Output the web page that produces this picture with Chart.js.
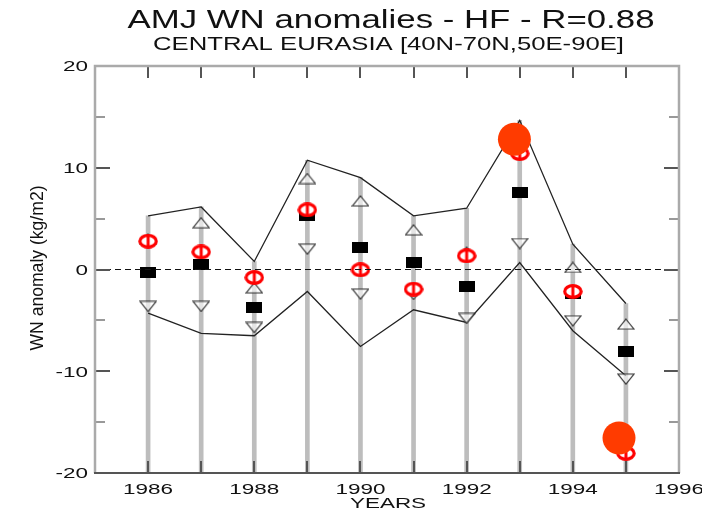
<!DOCTYPE html>
<html>
<head>
<meta charset="utf-8">
<title>AMJ WN anomalies - Central Eurasia</title>
<script src="https://cdn.jsdelivr.net/npm/chart.js@4.4.1/dist/chart.umd.min.js"></script>
<style>
  html, body { margin: 0; padding: 0; background: #ffffff; }
  #wrap { width: 702px; height: 511px; }
</style>
</head>
<body>
<div id="wrap"><canvas id="c" width="702" height="511"></canvas></div>
<script>
// Years of the April-May-June season
const years = [1986, 1987, 1988, 1989, 1990, 1991, 1992, 1993, 1994, 1995];

// Envelope of the hindcast spread (upper and lower bounds)
const upperBound = [5.27, 6.15, 0.79, 10.74, 9.03, 5.27, 6.02, 14.66, 2.49, -3.34];
const lowerBound = [-4.29, -6.28, -6.51, -2.16, -7.56, -3.96, -5.2, 0.69, -6.02, -10.45];

// Upper / lower member markers
const memberHigh = [3.0, 4.6, -1.8, 8.94, 6.74, 3.9, 1.7, null, 0.2, -5.37];
const memberLow = [-3.63, -3.63, -5.7, 2.0, -2.42, -2.45, -4.81, 2.55, -5.04, -10.77];

// Ensemble mean hindcast (black squares)
const ensembleMean = [-0.29, 0.46, -3.7, 5.34, 2.16, 0.69, -1.67, 7.56, -2.4, -8.05];

// Observed anomalies (red markers)
const observed = [2.78, 1.73, -0.79, 5.86, -0.03, -1.93, 1.34, 11.4, -2.16, -18.07];

// Highlighted extreme years (large orange dots)
const highlightX = [1992.9, 1994.87];
const highlightY = [12.8, -16.56];

// Axis settings
const yTicks = [-20, -10, 0, 10, 20];
const xLabelYears = [1986, 1988, 1990, 1992, 1994, 1996];
const xMin = 1985, xMax = 1996, yMin = -20, yMax = 20;

const FONT = '"Liberation Sans", Arial, Helvetica, sans-serif';

function pts(xs, ys) {
  return xs.map((x, i) => ({ x: x, y: ys[i] }));
}

function markerCanvas(w, h, draw) {
  const c = document.createElement('canvas');
  c.width = w; c.height = h;
  draw(c.getContext('2d'));
  return c;
}

const squareMarker = markerCanvas(16, 11, g => {
  g.fillStyle = '#000';
  g.fillRect(0, 0, 16, 11);
});

const upTriangle = markerCanvas(18, 12, g => {
  g.beginPath();
  g.moveTo(9, 1); g.lineTo(17, 11); g.lineTo(1, 11); g.closePath();
  g.fillStyle = 'rgba(255,255,255,0.6)';
  g.fill();
  g.strokeStyle = '#333'; g.lineWidth = 1.2; g.stroke();
});

const downTriangle = markerCanvas(18, 12, g => {
  g.beginPath();
  g.moveTo(1, 1); g.lineTo(17, 1); g.lineTo(9, 11); g.closePath();
  g.fillStyle = 'rgba(255,255,255,0.6)';
  g.fill();
  g.strokeStyle = '#333'; g.lineWidth = 1.2; g.stroke();
});

const obsMarker = markerCanvas(20, 15, g => {
  g.beginPath();
  g.ellipse(10, 7.5, 8.2, 5.8, 0, 0, Math.PI * 2);
  g.fillStyle = '#fff'; g.fill();
  g.strokeStyle = '#ff0000'; g.lineWidth = 3.2; g.stroke();
  g.beginPath();
  g.moveTo(10, 1.5); g.lineTo(10, 13.5);
  g.lineWidth = 3; g.stroke();
});

// Stretched text helper
function sText(ctx, txt, x, y, sx, align) {
  ctx.save();
  ctx.translate(x, y);
  ctx.scale(sx, 1);
  ctx.textAlign = align;
  ctx.textBaseline = 'middle';
  ctx.fillText(txt, 0, 0);
  ctx.restore();
}

function fitText(ctx, txt, cx, cy, width) {
  const w = ctx.measureText(txt).width;
  sText(ctx, txt, cx, cy, width / w, 'center');
}

const framePlugin = {
  id: 'frame',
  afterDatasetsDraw(chart) {
    const ctx = chart.ctx;
    const xs = chart.scales.x, ys = chart.scales.y;
    const L = xs.left, R = xs.right, T = ys.top, B = ys.bottom;
    ctx.save();

    // dashed zero line
    const y0 = ys.getPixelForValue(0);
    ctx.strokeStyle = '#111';
    ctx.lineWidth = 1;
    ctx.setLineDash([6, 4]);
    ctx.beginPath(); ctx.moveTo(L, y0); ctx.lineTo(R, y0); ctx.stroke();
    ctx.setLineDash([]);

    // inward ticks on x (every year, top and bottom)
    ctx.strokeStyle = '#555';
    ctx.lineWidth = 2;
    for (let yr = xMin + 1; yr < xMax; yr++) {
      const px = Math.round(xs.getPixelForValue(yr));
      ctx.beginPath(); ctx.moveTo(px, B); ctx.lineTo(px, B - 12); ctx.stroke();
      ctx.beginPath(); ctx.moveTo(px, T); ctx.lineTo(px, T + 12); ctx.stroke();
    }
    // inward ticks on y (every 5, left and right)
    for (let v = yMin + 5; v < yMax; v += 5) {
      const py = Math.round(ys.getPixelForValue(v));
      const major = v % 10 === 0;
      const len = major ? 15 : 10;
      ctx.strokeStyle = major ? '#555' : '#999';
      ctx.beginPath(); ctx.moveTo(L, py); ctx.lineTo(L + len, py); ctx.stroke();
      ctx.beginPath(); ctx.moveTo(R, py); ctx.lineTo(R - len, py); ctx.stroke();
    }

    // frame
    ctx.lineWidth = 2.5;
    ctx.strokeStyle = '#aaa';
    ctx.beginPath(); ctx.moveTo(L, B); ctx.lineTo(L, T); ctx.lineTo(R, T); ctx.lineTo(R, B); ctx.stroke();
    ctx.strokeStyle = '#555';
    ctx.lineWidth = 2;
    ctx.beginPath(); ctx.moveTo(L - 1, B); ctx.lineTo(R + 1, B); ctx.stroke();
    ctx.restore();
  },
  afterDraw(chart) {
    const ctx = chart.ctx;
    const xs = chart.scales.x, ys = chart.scales.y;
    ctx.save();
    ctx.fillStyle = '#111';

    // titles
    ctx.font = '26px ' + FONT;
    fitText(ctx, 'AMJ WN anomalies - HF - R=0.88', 391, 21, 527);
    ctx.font = '19px ' + FONT;
    fitText(ctx, 'CENTRAL EURASIA [40N-70N,50E-90E]', 388.5, 45, 471);

    // tick labels
    ctx.font = '15.5px ' + FONT;
    yTicks.forEach(v => {
      sText(ctx, String(v), 88, ys.getPixelForValue(v) + 1, 1.45, 'right');
    });
    xLabelYears.forEach(yr => {
      sText(ctx, String(yr), xs.getPixelForValue(yr), 490, 1.45, 'center');
    });

    // axis titles
    sText(ctx, 'YEARS', 388, 504, 1.45, 'center');

    ctx.font = '16px ' + FONT;
    const yt = 'WN anomaly (kg/m2)';
    const w = ctx.measureText(yt).width;
    ctx.save();
    ctx.translate(38, 268);
    ctx.rotate(-Math.PI / 2);
    ctx.scale(165 / w, 1.1);
    ctx.textAlign = 'center';
    ctx.textBaseline = 'middle';
    ctx.fillText(yt, 0, 0);
    ctx.restore();

    ctx.restore();
  }
};

const chart = new Chart(document.getElementById('c'), {
  type: 'scatter',
  data: {
    datasets: [
      {
        type: 'bar',
        label: 'range',
        data: years.map((yr, i) => ({ x: yr, y: [yMin, upperBound[i]] })),
        backgroundColor: '#bdbdbd',
        borderWidth: 0,
        barThickness: 4,
        order: 10
      },
      {
        type: 'line',
        label: 'upper bound',
        data: pts(years, upperBound),
        borderColor: '#222',
        borderWidth: 1.3,
        pointRadius: 0,
        tension: 0,
        fill: false,
        order: 8
      },
      {
        type: 'line',
        label: 'lower bound',
        data: pts(years, lowerBound),
        borderColor: '#222',
        borderWidth: 1.3,
        pointRadius: 0,
        tension: 0,
        fill: false,
        order: 8
      },
      {
        label: 'member high',
        data: pts(years, memberHigh),
        pointStyle: upTriangle,
        order: 6
      },
      {
        label: 'member low',
        data: pts(years, memberLow),
        pointStyle: downTriangle,
        order: 6
      },
      {
        label: 'ensemble mean',
        data: pts(years, ensembleMean),
        pointStyle: squareMarker,
        order: 5
      },
      {
        label: 'observed',
        data: pts(years, observed),
        pointStyle: obsMarker,
        order: 4
      },
      {
        label: 'highlight',
        data: pts(highlightX, highlightY),
        pointStyle: 'circle',
        pointRadius: 16.5,
        backgroundColor: '#ff3b00',
        borderWidth: 0,
        order: 1
      }
    ]
  },
  options: {
    responsive: false,
    devicePixelRatio: 1,
    animation: false,
    layout: { padding: { left: 95, right: 23, top: 66, bottom: 38 } },
    plugins: { legend: { display: false }, tooltip: { enabled: false } },
    scales: {
      x: { type: 'linear', display: false, min: xMin, max: xMax, offset: false },
      y: { type: 'linear', display: false, min: yMin, max: yMax }
    }
  },
  plugins: [framePlugin]
});
</script>
</body>
</html>
